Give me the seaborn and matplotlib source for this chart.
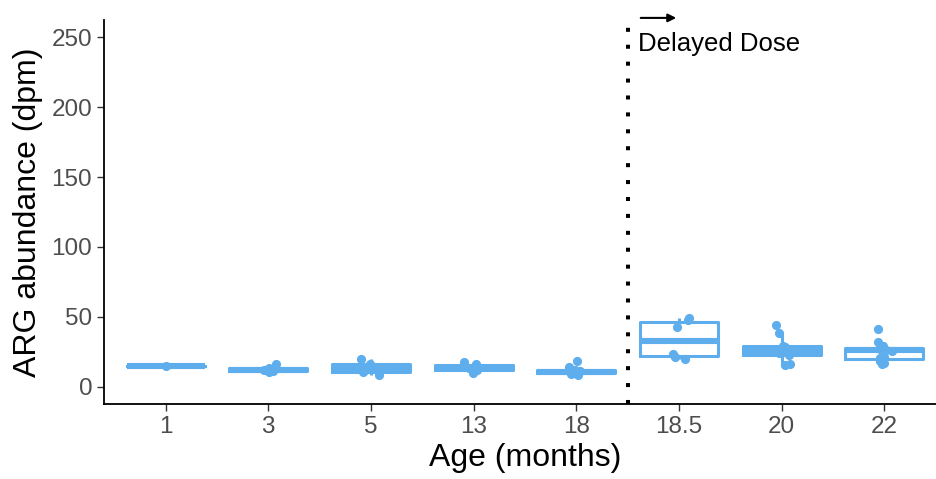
import matplotlib

matplotlib.use("Agg")
import matplotlib.pyplot as plt
import numpy as np
import pandas as pd
import seaborn as sns

# ARG abundance (dpm) per sample, grouped by age (months)
ages = ["1", "3", "5", "13", "18", "18.5", "20", "22"]
age_1 = [14.6]
age_3 = [10.4, 11.0, 12.0, 13.0, 16.5]
age_5 = [8.0, 10.2, 12.0, 14.0, 16.4, 19.5]
age_13 = [9.5, 11.5, 13.0, 14.0, 15.8, 17.5]
age_18 = [8.0, 9.0, 10.0, 10.5, 11.0, 11.5, 14.0, 18.0]
age_18_5 = [19.4, 21.5, 23.0, 42.5, 47.5, 48.9]
age_20 = [15.5, 16.0, 22.5, 24.0, 25.5, 28.6, 29.0, 38.5, 44.0]
age_22 = [16.0, 17.0, 18.5, 20.5, 21.0, 25.5, 26.5, 27.0, 27.5, 29.0, 32.0, 41.0]

groups = [age_1, age_3, age_5, age_13, age_18, age_18_5, age_20, age_22]
df = pd.DataFrame(
    [(a, v) for a, vals in zip(ages, groups) for v in vals],
    columns=["age", "abundance"],
)

blue = "#5EAEEE"

sns.set_style("ticks")
plt.rcParams["font.family"] = ["Liberation Sans", "DejaVu Sans"]

fig = plt.figure(figsize=(9.36, 4.79), dpi=100)
ax = fig.add_axes([104 / 936, 75 / 479, 842 / 936, 384 / 479])

sns.boxplot(
    data=df, x="age", y="abundance", order=ages, ax=ax,
    fill=False, color=blue, linewidth=2.2, width=0.76,
    showfliers=False, showcaps=False,
    medianprops={"linewidth": 4.4},
)
np.random.seed(3)
sns.stripplot(
    data=df, x="age", y="abundance", order=ages, ax=ax,
    color=blue, size=6.6, jitter=0.1, linewidth=0,
)

# delayed dose marker
ax.axvline(4.5, color="black", lw=2.9, linestyle=(0, (1, 3.2)))
ax.annotate(
    "", xy=(5.0, 264), xytext=(4.6, 264),
    arrowprops=dict(arrowstyle="-|>", color="black", lw=1.5, mutation_scale=12),
    annotation_clip=False,
)
ax.text(4.6, 245, "Delayed Dose", fontsize=18.5, ha="left", va="center", color="black")

ax.set_xlim(-0.6, 7.6)
ax.set_ylim(-12.5, 262.5)
ax.set_yticks([0, 50, 100, 150, 200, 250])
ax.set_xlabel("Age (months)", fontsize=23, labelpad=4, color="black")
ax.set_ylabel("ARG abundance (dpm)", fontsize=23, labelpad=6, color="black")
ax.tick_params(labelsize=17.5, labelcolor="#4D4D4D", length=5, width=1, color="#333333")
sns.despine(ax=ax)
for s in ["left", "bottom"]:
    ax.spines[s].set_linewidth(1.3)
    ax.spines[s].set_color("black")

fig.savefig("out.png", dpi=100)
